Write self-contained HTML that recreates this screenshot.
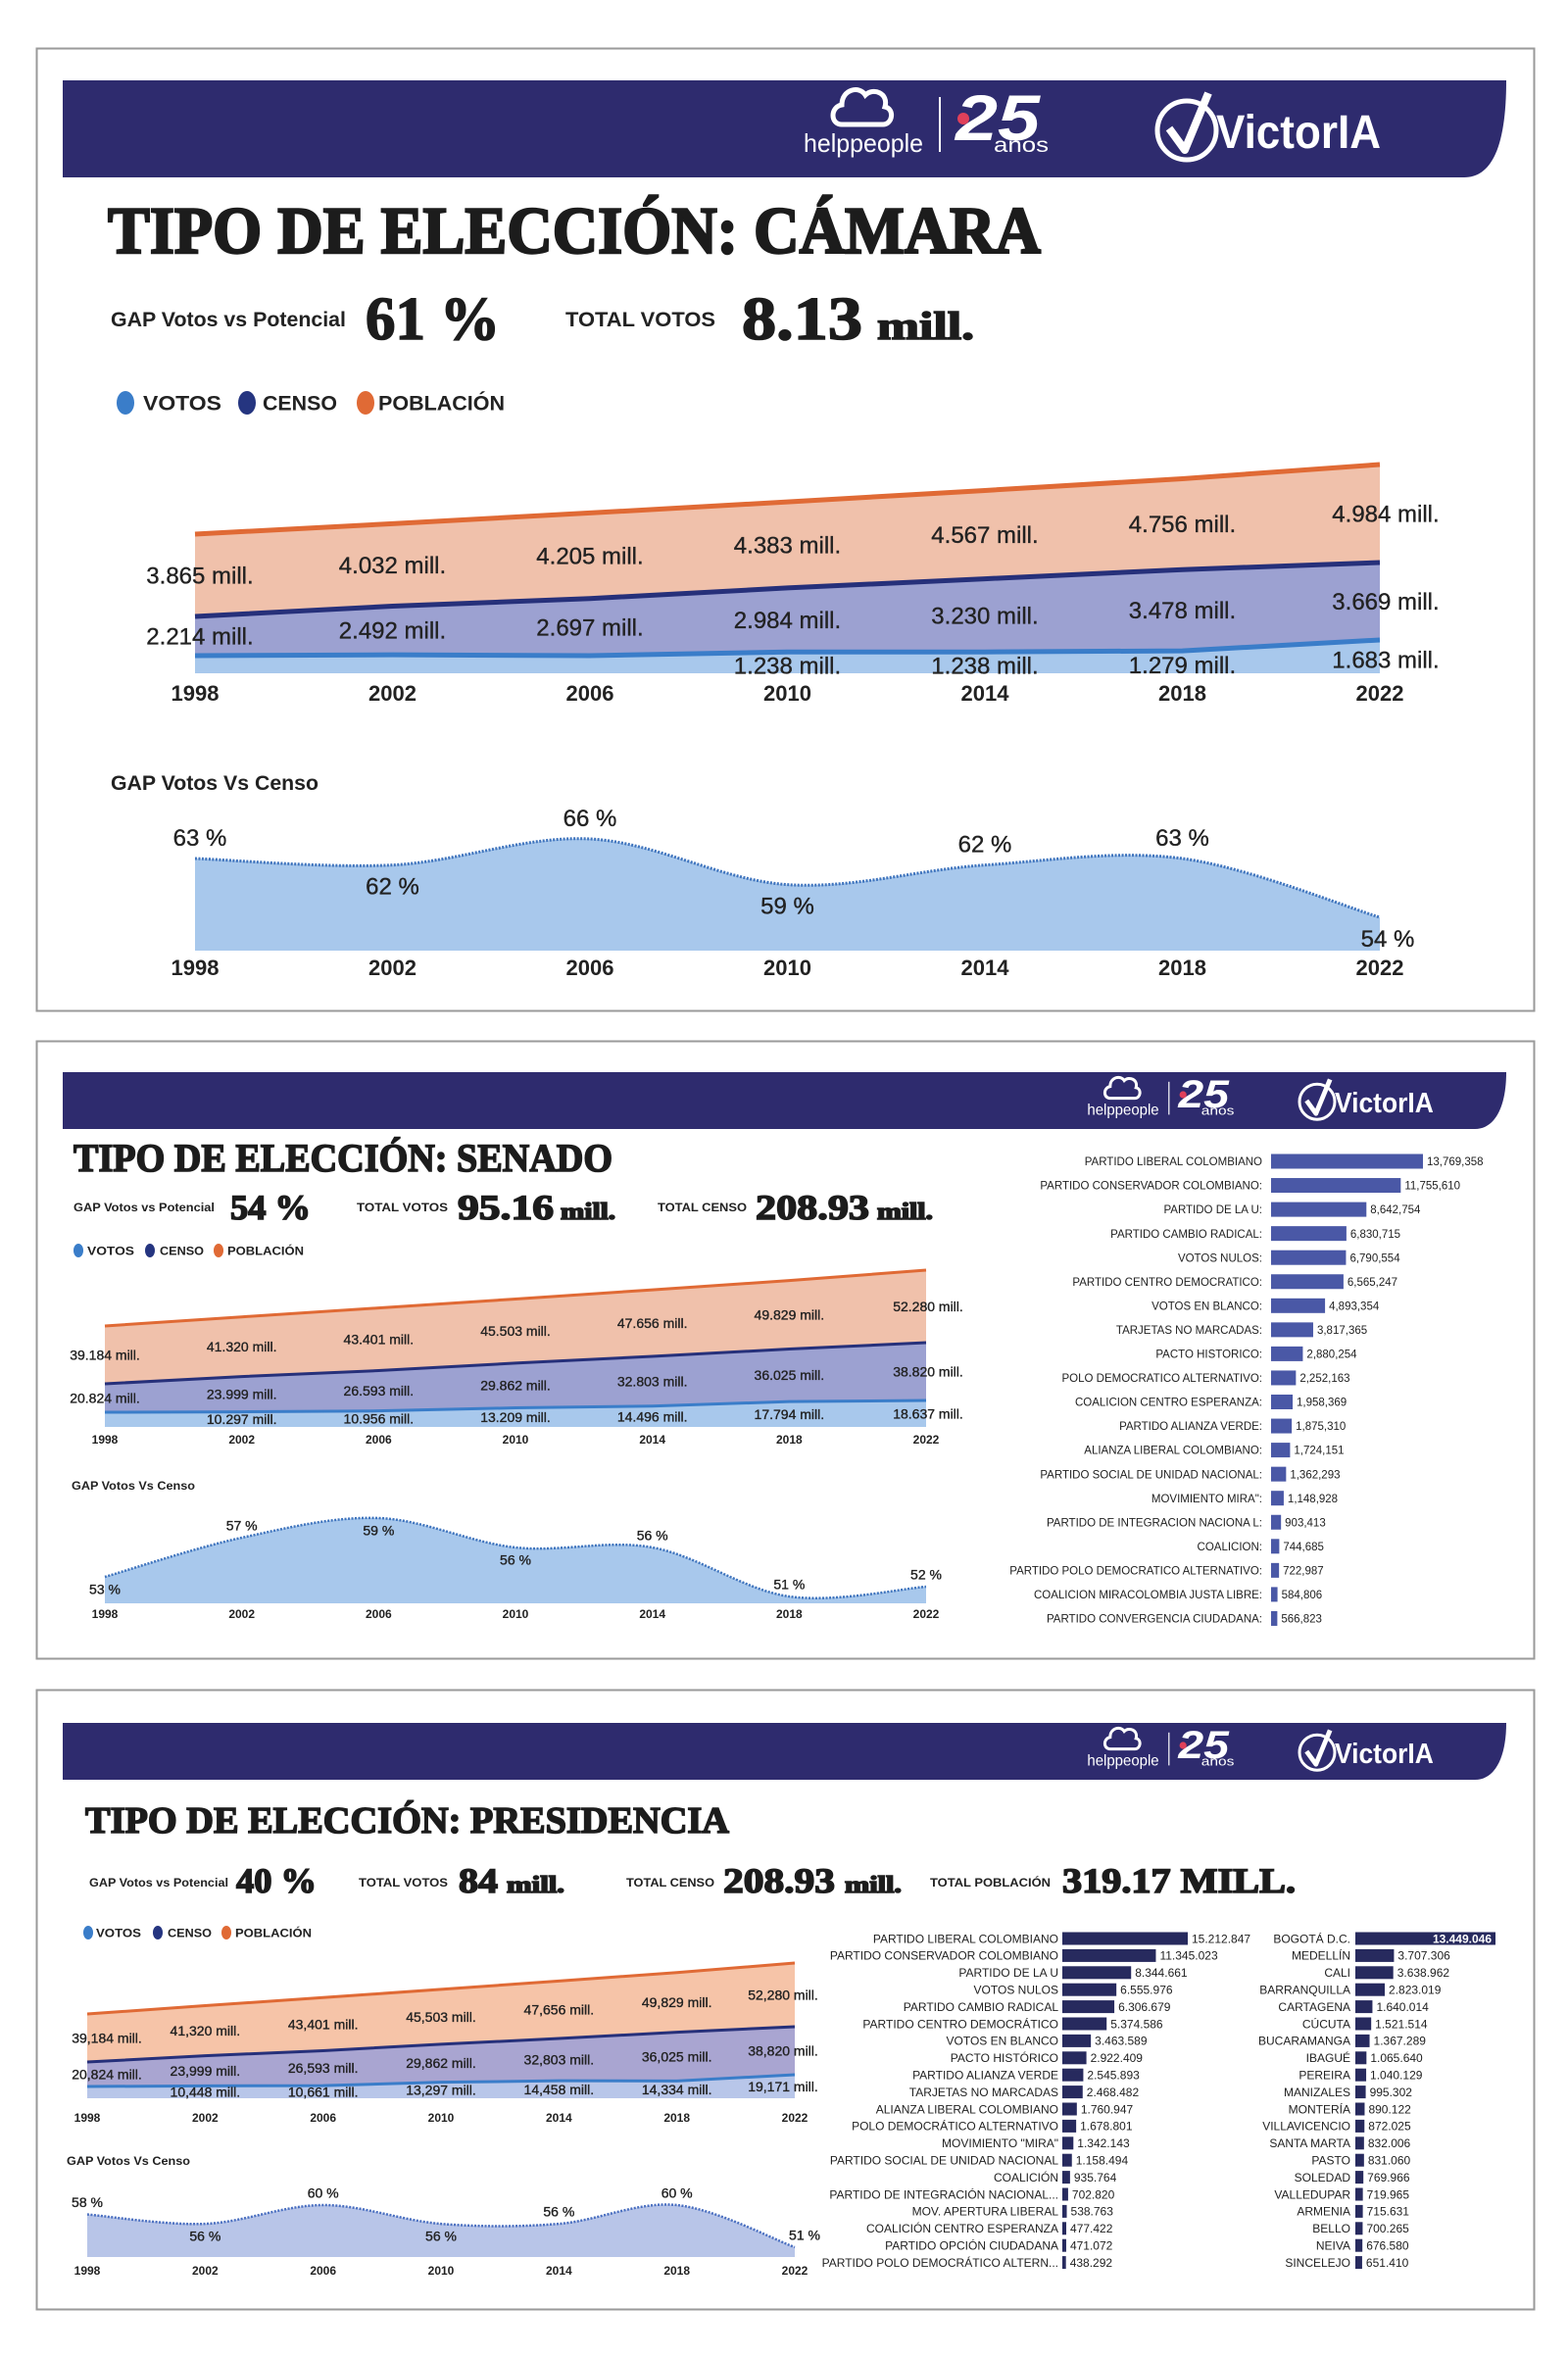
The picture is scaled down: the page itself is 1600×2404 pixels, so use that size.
<!DOCTYPE html>
<html><head><meta charset="utf-8">
<style>
html,body{margin:0;padding:0;background:#fff;}
svg{display:block;}
text{font-family:"Liberation Sans",sans-serif;fill:#222;}
.ser{font-family:"Liberation Serif",serif;font-weight:bold;fill:#1c1c1c;stroke:#1c1c1c;stroke-width:1.6px;}
.b{font-weight:bold;}
.w{fill:#fff;}
.lbl{stroke:#222;stroke-width:0.35px;}
</style></head>
<body>
<svg id="root" xmlns="http://www.w3.org/2000/svg" width="1600" height="2404" viewBox="0 0 1600 2404">
  <!-- Panel 1 -->
  <g>
    <rect x="37.5" y="49.5" width="1528" height="982" fill="#fff" stroke="#9a9a9a" stroke-width="2"/>
    <path d="M64,82 H1537 C1537,150 1522,181 1494,181 H64 Z" fill="#2e2b6e"/>
    <g id="logo1"></g>
    <text class="ser" x="110" y="258" font-size="68" textLength="952" lengthAdjust="spacingAndGlyphs" style="stroke-width:2.4px">TIPO DE ELECCIÓN: CÁMARA</text>
    <text class="b" x="113" y="333" font-size="21" textLength="240" lengthAdjust="spacingAndGlyphs">GAP Votos vs Potencial</text>
    <text class="ser" x="373" y="346" font-size="62" textLength="137" lengthAdjust="spacingAndGlyphs">61 %</text>
    <text class="b" x="577" y="333" font-size="21" textLength="153" lengthAdjust="spacingAndGlyphs">TOTAL VOTOS</text>
    <text class="ser" x="757" y="346" font-size="62" textLength="123" lengthAdjust="spacingAndGlyphs">8.13</text>
    <text class="ser" x="895" y="346" font-size="40" textLength="99" lengthAdjust="spacingAndGlyphs">mill.</text>
    <g id="legend1"></g>
    <g id="area1"></g>
    <text class="b" x="113" y="806" font-size="21" textLength="212" lengthAdjust="spacingAndGlyphs">GAP Votos Vs Censo</text>
    <g id="gap1"></g>
  </g>
  <!-- Panel 2 -->
  <g>
    <rect x="37.5" y="1062.5" width="1528" height="630" fill="#fff" stroke="#9a9a9a" stroke-width="2"/>
    <path d="M64,1094 H1537 C1537,1130 1525,1152 1505,1152 H64 Z" fill="#2e2b6e"/>
    <g id="logo2"></g>
    <text class="ser" x="75" y="1195" font-size="40" textLength="550" lengthAdjust="spacingAndGlyphs">TIPO DE ELECCIÓN: SENADO</text>
    <text class="b" x="75" y="1236" font-size="12" textLength="144" lengthAdjust="spacingAndGlyphs">GAP Votos vs Potencial</text>
    <text class="ser" x="235" y="1244" font-size="36" textLength="82" lengthAdjust="spacingAndGlyphs">54 %</text>
    <text class="b" x="364" y="1236" font-size="12" textLength="93" lengthAdjust="spacingAndGlyphs">TOTAL VOTOS</text>
    <text class="ser" x="467" y="1244" font-size="36" textLength="98" lengthAdjust="spacingAndGlyphs">95.16</text>
    <text class="ser" x="572" y="1244" font-size="24" textLength="56" lengthAdjust="spacingAndGlyphs">mill.</text>
    <text class="b" x="671" y="1236" font-size="12" textLength="91" lengthAdjust="spacingAndGlyphs">TOTAL CENSO</text>
    <text class="ser" x="771" y="1244" font-size="36" textLength="116" lengthAdjust="spacingAndGlyphs">208.93</text>
    <text class="ser" x="895" y="1244" font-size="24" textLength="57" lengthAdjust="spacingAndGlyphs">mill.</text>
    <g id="legend2"></g>
    <g id="area2"></g>
    <text class="b" x="73" y="1520" font-size="12" textLength="126" lengthAdjust="spacingAndGlyphs">GAP Votos Vs Censo</text>
    <g id="gap2"></g>
    <g id="bars2"></g>
  </g>
  <!-- Panel 3 -->
  <g>
    <rect x="37.5" y="1724.5" width="1528" height="632" fill="#fff" stroke="#9a9a9a" stroke-width="2"/>
    <path d="M64,1758 H1537 C1537,1794 1525,1816 1505,1816 H64 Z" fill="#2e2b6e"/>
    <g id="logo3"></g>
    <text class="ser" x="87" y="1870" font-size="38" textLength="657" lengthAdjust="spacingAndGlyphs">TIPO DE ELECCIÓN: PRESIDENCIA</text>
    <text class="b" x="91" y="1925" font-size="12" textLength="142" lengthAdjust="spacingAndGlyphs">GAP Votos vs Potencial</text>
    <text class="ser" x="241" y="1931" font-size="36" textLength="82" lengthAdjust="spacingAndGlyphs">40 %</text>
    <text class="b" x="366" y="1925" font-size="12" textLength="91" lengthAdjust="spacingAndGlyphs">TOTAL VOTOS</text>
    <text class="ser" x="468" y="1931" font-size="36" textLength="40" lengthAdjust="spacingAndGlyphs">84</text>
    <text class="ser" x="517" y="1931" font-size="24" textLength="59" lengthAdjust="spacingAndGlyphs">mill.</text>
    <text class="b" x="639" y="1925" font-size="12" textLength="90" lengthAdjust="spacingAndGlyphs">TOTAL CENSO</text>
    <text class="ser" x="738" y="1931" font-size="36" textLength="114" lengthAdjust="spacingAndGlyphs">208.93</text>
    <text class="ser" x="862" y="1931" font-size="24" textLength="58" lengthAdjust="spacingAndGlyphs">mill.</text>
    <text class="b" x="949" y="1925" font-size="12" textLength="123" lengthAdjust="spacingAndGlyphs">TOTAL POBLACIÓN</text>
    <text class="ser" x="1084" y="1931" font-size="36" textLength="238" lengthAdjust="spacingAndGlyphs">319.17 MILL.</text>
    <g id="legend3"></g>
    <g id="area3"></g>
    <text class="b" x="68" y="2209" font-size="12" textLength="126" lengthAdjust="spacingAndGlyphs">GAP Votos Vs Censo</text>
    <g id="gap3"></g>
    <g id="bars3a"></g>
    <g id="bars3b"></g>
  </g>
</svg>
<script>
// ---------- DATA ----------
const years = ['1998','2002','2006','2010','2014','2018','2022'];

const camPob = [38.65, 40.32, 42.05, 43.83, 45.67, 47.56, 49.84];
const camPobLabels = ['3.865 mill.','4.032 mill.','4.205 mill.','4.383 mill.','4.567 mill.','4.756 mill.','4.984 mill.'];
const camCenso = [22.14, 24.92, 26.97, 29.84, 32.30, 34.78, 36.69];
const camCensoLabels = ['2.214 mill.','2.492 mill.','2.697 mill.','2.984 mill.','3.230 mill.','3.478 mill.','3.669 mill.'];
const camVotos = [1.10, 1.13, 1.10, 1.238, 1.238, 1.279, 1.683];
const camVotosLabels = ['','','','1.238 mill.','1.238 mill.','1.279 mill.','1.683 mill.'];
const camGap = [63, 62, 66, 59, 62, 63, 54];

const senPob = [39.184, 41.320, 43.401, 45.503, 47.656, 49.829, 52.280];
const senPobLabels = ['39.184 mill.','41.320 mill.','43.401 mill.','45.503 mill.','47.656 mill.','49.829 mill.','52.280 mill.'];
const senCenso = [20.824, 23.999, 26.593, 29.862, 32.803, 36.025, 38.820];
const senCensoLabels = ['20.824 mill.','23.999 mill.','26.593 mill.','29.862 mill.','32.803 mill.','36.025 mill.','38.820 mill.'];
const senVotos = [10.0, 10.297, 10.956, 13.209, 14.496, 17.794, 18.637];
const senVotosLabels = ['','10.297 mill.','10.956 mill.','13.209 mill.','14.496 mill.','17.794 mill.','18.637 mill.'];
const senGap = [53, 57, 59, 56, 56, 51, 52];

const prePob = [39.184, 41.320, 43.401, 45.503, 47.656, 49.829, 52.280];
const prePobLabels = ['39,184 mill.','41,320 mill.','43,401 mill.','45,503 mill.','47,656 mill.','49,829 mill.','52,280 mill.'];
const preCenso = [20.824, 23.999, 26.593, 29.862, 32.803, 36.025, 38.820];
const preCensoLabels = ['20,824 mill.','23,999 mill.','26,593 mill.','29,862 mill.','32,803 mill.','36,025 mill.','38,820 mill.'];
const preVotos = [10.0, 10.448, 10.661, 13.297, 14.458, 14.334, 19.171];
const preVotosLabels = ['','10,448 mill.','10,661 mill.','13,297 mill.','14,458 mill.','14,334 mill.','19,171 mill.'];
const preGap = [58, 56, 60, 56, 56, 60, 51];

const senParties = ['PARTIDO LIBERAL COLOMBIANO','PARTIDO CONSERVADOR COLOMBIANO:','PARTIDO DE LA U:','PARTIDO CAMBIO RADICAL:','VOTOS NULOS:','PARTIDO CENTRO DEMOCRATICO:','VOTOS EN BLANCO:','TARJETAS NO MARCADAS:','PACTO HISTORICO:','POLO DEMOCRATICO ALTERNATIVO:','COALICION CENTRO ESPERANZA:','PARTIDO ALIANZA VERDE:','ALIANZA LIBERAL COLOMBIANO:','PARTIDO SOCIAL DE UNIDAD NACIONAL:','MOVIMIENTO MIRA":','PARTIDO DE INTEGRACION NACIONA L:','COALICION:','PARTIDO POLO DEMOCRATICO ALTERNATIVO:','COALICION MIRACOLOMBIA JUSTA LIBRE:','PARTIDO CONVERGENCIA CIUDADANA:'];
const senVotes = [13769358,11755610,8642754,6830715,6790554,6565247,4893354,3817365,2880254,2252163,1958369,1875310,1724151,1362293,1148928,903413,744685,722987,584806,566823];
const senVoteLabels = ['13,769,358','11,755,610','8,642,754','6,830,715','6,790,554','6,565,247','4,893,354','3,817,365','2,880,254','2,252,163','1,958,369','1,875,310','1,724,151','1,362,293','1,148,928','903,413','744,685','722,987','584,806','566,823'];

const preParties = ['PARTIDO LIBERAL COLOMBIANO','PARTIDO CONSERVADOR COLOMBIANO','PARTIDO DE LA U','VOTOS NULOS','PARTIDO CAMBIO RADICAL','PARTIDO CENTRO DEMOCRÁTICO','VOTOS EN BLANCO','PACTO HISTÓRICO','PARTIDO ALIANZA VERDE','TARJETAS NO MARCADAS','ALIANZA LIBERAL COLOMBIANO','POLO DEMOCRÁTICO ALTERNATIVO','MOVIMIENTO "MIRA"','PARTIDO SOCIAL DE UNIDAD NACIONAL','COALICIÓN','PARTIDO DE INTEGRACIÓN NACIONAL...','MOV. APERTURA LIBERAL','COALICIÓN CENTRO ESPERANZA','PARTIDO OPCIÓN CIUDADANA','PARTIDO POLO DEMOCRÁTICO ALTERN...'];
const preVotes = [15212847,11345023,8344661,6555976,6306679,5374586,3463589,2922409,2545893,2468482,1760947,1678801,1342143,1158494,935764,702820,538763,477422,471072,438292];
const preVoteLabels = ['15.212.847','11.345.023','8.344.661','6.555.976','6.306.679','5.374.586','3.463.589','2.922.409','2.545.893','2.468.482','1.760.947','1.678.801','1.342.143','1.158.494','935.764','702.820','538.763','477.422','471.072','438.292'];

const cities = ['BOGOTÁ D.C.','MEDELLÍN','CALI','BARRANQUILLA','CARTAGENA','CÚCUTA','BUCARAMANGA','IBAGUÉ','PEREIRA','MANIZALES','MONTERÍA','VILLAVICENCIO','SANTA MARTA','PASTO','SOLEDAD','VALLEDUPAR','ARMENIA','BELLO','NEIVA','SINCELEJO'];
const cityVotes = [13449046,3707306,3638962,2823019,1640014,1521514,1367289,1065640,1040129,995302,890122,872025,832006,831060,769966,719965,715631,700265,676580,651410];
const cityVoteLabels = ['13.449.046','3.707.306','3.638.962','2.823.019','1.640.014','1.521.514','1.367.289','1.065.640','1.040.129','995.302','890.122','872.025','832.006','831.060','769.966','719.965','715.631','700.265','676.580','651.410'];

// ---------- HELPERS ----------
const NS = 'http://www.w3.org/2000/svg';
function mk(tag, attrs, parent, txt){
  const e = document.createElementNS(NS, tag);
  for (const k in attrs) e.setAttribute(k, attrs[k]);
  if (txt !== undefined) e.textContent = txt;
  parent.appendChild(e);
  return e;
}
function linScale(d0, d1, r0, r1){ return v => r0 + (v - d0) * (r1 - r0) / (d1 - d0); }
function smoothPath(pts){
  let d = 'M' + pts[0][0] + ',' + pts[0][1];
  for (let i = 0; i < pts.length - 1; i++){
    const p0 = pts[i-1] || pts[i], p1 = pts[i], p2 = pts[i+1], p3 = pts[i+2] || p2;
    const c1x = p1[0] + (p2[0]-p0[0])/6, c1y = p1[1] + (p2[1]-p0[1])/6;
    const c2x = p2[0] - (p3[0]-p1[0])/6, c2y = p2[1] - (p3[1]-p1[1])/6;
    d += ' C' + c1x + ',' + c1y + ' ' + c2x + ',' + c2y + ' ' + p2[0] + ',' + p2[1];
  }
  return d;
}
function line(pts){ return pts.map((p,i)=>(i?'L':'M')+p[0]+','+p[1]).join(' '); }

// ---------- LOGOS ----------
function drawLogos(id, tx, ty, s){
  const g = mk('g', {transform:'translate('+tx+','+ty+') scale('+s+')'}, document.getElementById(id));
  const cloud = mk('path', {d:'M-22,-4 C-34,-4 -34,-22 -22,-24 C-22,-40 -4,-44 2,-34 C10,-42 26,-36 22,-22 C32,-20 30,-4 20,-4 Z', fill:'none', stroke:'#fff', 'stroke-width':5}, g);
  
  
  const hp = mk('text', {x:0, y:24, 'font-size':26, 'text-anchor':'middle', class:'w', textLength:122, lengthAdjust:'spacingAndGlyphs'}, g, 'helppeople');
  
  
  mk('line', {x1:78, y1:-32, x2:78, y2:24, stroke:'#fff', 'stroke-width':2}, g);
  const t25 = mk('text', {x:94, y:12, 'font-size':66, 'font-weight':'bold', 'font-style':'italic', class:'w', textLength:86, lengthAdjust:'spacingAndGlyphs'}, g, '25');
  
  
  mk('circle', {cx:102, cy:-10, r:6, fill:'#e0405a'}, g);
  const an = mk('text', {x:133, y:24, 'font-size':21, class:'w', textLength:56, lengthAdjust:'spacingAndGlyphs'}, g, 'años');
  
  
  mk('circle', {cx:330, cy:2, r:30, fill:'none', stroke:'#fff', 'stroke-width':5}, g);
  mk('path', {d:'M312,0 L328,22 L352,-36', fill:'none', stroke:'#fff', 'stroke-width':8, 'stroke-linejoin':'round'}, g);
  const v = mk('text', {x:360, y:20, 'font-size':48, 'font-weight':'bold', class:'w', textLength:168, lengthAdjust:'spacingAndGlyphs'}, g, 'VictorIA');
  
  
}

// ---------- LEGEND ----------
function drawLegend(id, cfg){
  const g = document.getElementById(id);
  const items = [['VOTOS','#3a7dc9'],['CENSO','#253580'],['POBLACIÓN','#e06a35']];
  items.forEach((it, i) => {
    const c = mk('ellipse', {cx:cfg.cx[i], cy:cfg.y, rx:cfg.rx, ry:cfg.ry, fill:it[1]}, g);
    
    
    const t = mk('text', {x:cfg.tx[i], y:cfg.y + cfg.fs*0.36, 'font-size':cfg.fs, 'font-weight':'bold', textLength:cfg.tw[i], lengthAdjust:'spacingAndGlyphs'}, g, it[0]);
    
    
  });
}

// ---------- AREA CHART ----------
function drawArea(id, c){
  const g = document.getElementById(id);
  const n = years.length;
  const x = i => c.xL + i*(c.xR - c.xL)/(n-1);
  const pP = c.pob.map((v,i)=>[x(i), c.yP(v)]);
  const pC = c.censo.map((v,i)=>[x(i), c.yC(v)]);
  const pV = c.votos.map((v,i)=>[x(i), c.yV(v)]);
  const base = [[c.xR, c.base],[c.xL, c.base]];
  const bP = mk('path', {d: line(pP.concat(pC.slice().reverse())) + 'Z', fill:c.fillP}, g);
  
  
  const bC = mk('path', {d: line(pC.concat(pV.slice().reverse())) + 'Z', fill:c.fillC}, g);
  
  
  const bV = mk('path', {d: line(pV.concat(base)) + 'Z', fill:c.fillV}, g);
  
  
  const lP = mk('path', {d: line(pP), fill:'none', stroke:'#e06a35', 'stroke-width':c.sw}, g);
  
  
  const lC = mk('path', {d: line(pC), fill:'none', stroke:'#26307a', 'stroke-width':c.sw}, g);
  
  
  const lV = mk('path', {d: line(pV), fill:'none', stroke:'#3a7dc9', 'stroke-width':c.sw}, g);
  
  
  for (let i = 0; i < n; i++){
    const lx = x(i) + (i === 0 ? c.lOff0 : 0) + (i === n-1 ? c.lOffN : 0);
    const t1 = mk('text', {x:lx, y:(pP[i][1]+pC[i][1])/2 + c.fs*0.35, 'font-size':c.fs, 'text-anchor':'middle', class:'lbl'}, g, c.pobL[i]);
    
    
    const t2 = mk('text', {x:lx, y:(pC[i][1]+pV[i][1])/2 + c.fs*0.35, 'font-size':c.fs, 'text-anchor':'middle', class:'lbl'}, g, c.censoL[i]);
    
    
    if (c.votosL[i]){
      const t3 = mk('text', {x:lx, y:(pV[i][1]+c.base)/2 + c.fs*0.35 + c.vOff, 'font-size':c.fs, 'text-anchor':'middle', class:'lbl'}, g, c.votosL[i]);
      
      
    }
    const ty = mk('text', {x:x(i), y:c.yearY, 'font-size':c.yfs, 'font-weight':'bold', 'text-anchor':'middle'}, g, years[i]);
    
    
  }
}

// ---------- GAP CHART ----------
function drawGap(id, c){
  const g = document.getElementById(id);
  const n = years.length;
  const x = i => c.xL + i*(c.xR - c.xL)/(n-1);
  const pts = c.vals.map((v,i)=>[x(i), c.y(v)]);
  const sp = smoothPath(pts);
  const a = mk('path', {d: sp + ' L' + c.xR + ',' + c.base + ' L' + c.xL + ',' + c.base + ' Z', fill:c.fill}, g);
  
  
  const l = mk('path', {d: sp, fill:'none', stroke:c.stroke, 'stroke-width':c.sw, 'stroke-dasharray':'2 1.5'}, g);
  
  
  for (let i = 0; i < n; i++){
    const above = c.pos[i] === 'a';
    const ly = above ? pts[i][1] - c.fs*0.55 : pts[i][1] + c.fs*1.25;
    const lx = x(i) + (i === n-1 ? c.lOffN : 0) + (i === 0 ? c.lOff0 : 0);
    const t = mk('text', {x:lx, y:ly, 'font-size':c.fs, 'text-anchor':'middle', class:'lbl'}, g, c.vals[i] + ' %');
    
    
    const ty = mk('text', {x:x(i), y:c.yearY, 'font-size':c.yfs, 'font-weight':'bold', 'text-anchor':'middle'}, g, years[i]);
    
    
  }
}

// ---------- BAR CHART ----------
function drawBars(id, labels, vals, vlabels, c){
  const g = document.getElementById(id);
  const maxV = Math.max.apply(null, vals);
  const w = v => v / maxV * c.maxW;
  labels.forEach((lab, i) => {
    const yc = c.y0 + i*c.step;
    const t = mk('text', {x:c.labelRight, y:yc + c.fs*0.36, 'font-size':c.fs, 'text-anchor':'end', fill:'#222'}, g, lab);
    
    
    const r = mk('rect', {x:c.barX, y:yc - c.h/2, width:w(vals[i]), height:c.h, fill:c.color}, g);
    
    
    const inside = c.insideFirst && i === 0;
    const vt = mk('text', {x: inside ? c.barX + w(vals[i]) - 4 : c.barX + w(vals[i]) + 4, y:yc + c.fs*0.36, 'font-size':c.fs, 'text-anchor': inside ? 'end' : 'start', 'font-weight': inside ? 'bold' : 'normal'}, g, vlabels[i]);
    if (inside) vt.setAttribute('class', 'w');
    
    
  });
}

// ---------- RENDER ----------
drawLogos('logo1', 881, 131, 1);
drawLogos('logo2', 1146, 1123, 0.6);
drawLogos('logo3', 1146, 1787, 0.6);

drawLegend('legend1', {y:411, rx:9, ry:12, fs:21, cx:[128,252,373], tx:[146,268,386], tw:[80,76,129]});
drawLegend('legend2', {y:1276, rx:5, ry:7, fs:12, cx:[80,153,223], tx:[89,163,232], tw:[48,45,78]});
drawLegend('legend3', {y:1972, rx:5, ry:7, fs:12, cx:[90,161,231], tx:[98,171,240], tw:[46,45,78]});

drawArea('area1', {xL:199, xR:1408, base:687, sw:5, fs:24, yfs:22, yearY:715, lOff0:5, lOffN:6, vOff:3,
  pob:camPob, censo:camCenso, votos:camVotos, pobL:camPobLabels, censoL:camCensoLabels, votosL:camVotosLabels,
  yP:linScale(38.65,49.84,545,474), yC:linScale(22.14,36.69,629,574), yV:linScale(1.10,1.683,669,653),
  fillP:'#f0c1ab', fillC:'#9ca1d1', fillV:'#a8c8ec'});
drawArea('area2', {xL:107, xR:945, base:1456, sw:3, fs:14, yfs:12, yearY:1473, lOff0:0, lOffN:2, vOff:0,
  pob:senPob, censo:senCenso, votos:senVotos, pobL:senPobLabels, censoL:senCensoLabels, votosL:senVotosLabels,
  yP:linScale(39.184,52.280,1353,1296), yC:linScale(20.824,38.820,1412,1370), yV:linScale(10.0,18.637,1441,1429),
  fillP:'#f0c1ab', fillC:'#9ca1d1', fillV:'#a8c8ec'});
drawArea('area3', {xL:89, xR:811, base:2141, sw:3, fs:14, yfs:12, yearY:2165, lOff0:20, lOffN:-12, vOff:0,
  pob:prePob, censo:preCenso, votos:preVotos, pobL:prePobLabels, censoL:preCensoLabels, votosL:preVotosLabels,
  yP:linScale(39.184,52.280,2055,2003), yC:linScale(20.824,38.820,2104,2068), yV:linScale(10.0,19.171,2129,2117),
  fillP:'#f6c4a8', fillC:'#a9a5d1', fillV:'#b8c6e9'});

drawGap('gap1', {xL:199, xR:1408, base:970, y:linScale(66,54,856,936), vals:camGap, pos:['a','b','a','b','a','a','b'],
  fs:24, yfs:22, yearY:995, sw:3, lOff0:5, lOffN:8, fill:'#a8c8ec', stroke:'#3f74bd'});
drawGap('gap2', {xL:107, xR:945, base:1636, y:linScale(59,51,1549,1629), vals:senGap, pos:['b','a','b','b','a','a','a'],
  fs:14, yfs:12, yearY:1651, sw:2.5, lOff0:0, lOffN:0, fill:'#a8c8ec', stroke:'#3f74bd'});
drawGap('gap3', {xL:89, xR:811, base:2303, y:linScale(60,51,2250,2293), vals:preGap, pos:['a','b','a','b','a','a','a'],
  fs:14, yfs:12, yearY:2321, sw:2.5, lOff0:0, lOffN:10, fill:'#b8c5e8', stroke:'#4a6fc0'});

drawBars('bars2', senParties, senVotes, senVoteLabels, {labelRight:1288, barX:1297, maxW:155, y0:1185, step:24.55, h:15, fs:11.5, color:'#4a58a6'});
drawBars('bars3a', preParties, preVotes, preVoteLabels, {labelRight:1080, barX:1084, maxW:128, y0:1978, step:17.4, h:13, fs:12, color:'#272a5e'});
drawBars('bars3b', cities, cityVotes, cityVoteLabels, {labelRight:1378, barX:1383, maxW:143, y0:1978, step:17.4, h:13, fs:12, color:'#272a5e', insideFirst:true});
</script>
</body></html>
